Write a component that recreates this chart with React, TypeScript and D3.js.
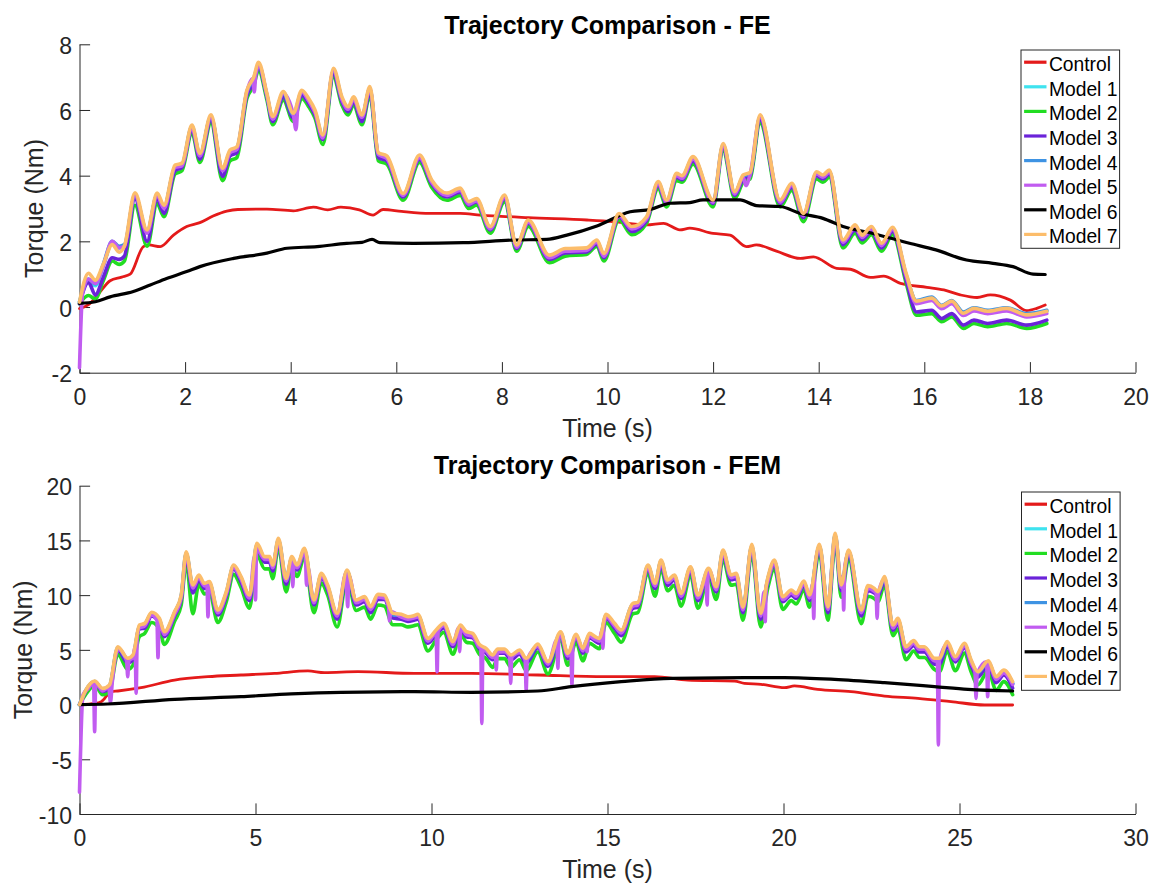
import React, { useRef, useEffect } from "react";
import * as d3 from "d3";

// legend entries, drawn in this order (Model 7 ends up on top)
const seriesNames = ["Control", "Model 1", "Model 2", "Model 3", "Model 4", "Model 5", "Model 6", "Model 7"];
const seriesColors = ["#e41a1a", "#3fe3ef", "#22dd22", "#6b23d9", "#3e93e3", "#c15cf0", "#000000", "#fcbd6b"];

const feXTicks = [0, 2, 4, 6, 8, 10, 12, 14, 16, 18, 20];
const feYTicks = [-2, 0, 2, 4, 6, 8];
const femXTicks = [0, 5, 10, 15, 20, 25, 30];
const femYTicks = [-10, -5, 0, 5, 10, 15, 20];

// ---------- FE ----------
const feTime = [
  0, 0.17, 0.3, 0.45, 0.62, 0.75, 0.85, 1.05, 1.28, 1.47,
  1.6, 1.81, 1.94, 2.13, 2.28, 2.49, 2.71, 2.85, 2.98, 3.17,
  3.3, 3.39, 3.55, 3.66, 3.86, 4.05, 4.21, 4.34, 4.46, 4.61,
  4.81, 4.97, 5.09, 5.19, 5.35, 5.5, 5.66, 5.82, 6.13, 6.44,
  6.67, 6.96, 7.21, 7.37, 7.52, 7.78, 8.05, 8.28, 8.5, 8.9,
  9.2, 9.6, 9.8, 9.93, 10.22, 10.46, 10.74, 10.96, 11.12, 11.31,
  11.41, 11.62, 12.0, 12.19, 12.41, 12.57, 12.7, 12.89, 13.27, 13.49,
  13.71, 13.96, 14.08, 14.2, 14.46, 14.69, 14.82, 15.0, 15.19, 15.4,
  15.66, 15.85, 16.14, 16.33, 16.52, 16.74, 16.94, 17.2, 17.56, 17.94, 18.32,
];
const feModel7 = [
  0.15, 1.03, 0.82, 1.3, 1.9, 1.67, 1.85, 3.48, 2.35, 3.47,
  3.1, 4.32, 4.38, 5.54, 4.68, 5.85, 4.23, 4.78, 4.88, 6.6,
  7.0, 7.45, 6.5, 5.8, 6.56, 5.9, 6.6, 6.35, 6.0, 5.24,
  7.27, 6.4, 6.1, 6.4, 5.85, 6.71, 4.7, 4.6, 3.46, 4.63,
  3.87, 3.47, 3.62, 3.21, 3.3, 2.45, 3.41, 1.89, 2.65, 1.58,
  1.78, 1.8, 2.04, 1.63, 2.85, 2.45, 2.75, 3.82, 3.26, 4.07,
  4.0, 4.58, 3.26, 4.98, 3.51, 4.02, 4.1, 5.85, 3.26, 3.77,
  2.85, 4.12, 4.02, 4.17, 2.04, 2.5, 2.19, 2.45, 1.94, 2.43,
  1.0, 0.18, 0.27, 0.03, 0.18, -0.19, -0.04, -0.13, -0.04, -0.24, -0.13,
];
const feModel2 = [
  0.1, 0.35, 0.25, 0.8, 1.4, 1.3, 1.4, 3.1, 1.85, 3.15,
  2.75, 4.05, 4.15, 5.3, 4.4, 5.6, 3.85, 4.45, 4.55, 6.35,
  6.75, 7.2, 6.3, 5.55, 6.3, 5.65, 6.35, 6.1, 5.75, 4.95,
  7.0, 6.15, 5.85, 6.15, 5.55, 6.45, 4.45, 4.35, 3.25, 4.4,
  3.65, 3.25, 3.4, 3.0, 3.1, 2.25, 3.2, 1.7, 2.45, 1.35,
  1.55, 1.6, 1.85, 1.4, 2.65, 2.2, 2.55, 3.6, 3.05, 3.85,
  3.8, 4.35, 3.05, 4.75, 3.3, 3.8, 3.9, 5.6, 3.05, 3.55,
  2.6, 3.9, 3.8, 3.95, 1.8, 2.25, 1.95, 2.2, 1.7, 2.2,
  0.7, -0.25, -0.2, -0.45, -0.3, -0.65, -0.5, -0.6, -0.5, -0.65, -0.5,
];
const feModel3 = [
  0.1, 0.75, 0.37, 0.9, 1.5, 1.45, 1.55, 3.3, 2.0, 3.3,
  2.85, 4.15, 4.25, 5.4, 4.5, 5.7, 3.98, 4.6, 4.7, 6.45,
  6.85, 7.3, 6.4, 5.65, 6.4, 5.75, 6.45, 6.2, 5.85, 5.1,
  7.1, 6.25, 5.95, 6.25, 5.65, 6.55, 4.55, 4.45, 3.35, 4.5,
  3.75, 3.35, 3.5, 3.1, 3.2, 2.35, 3.3, 1.78, 2.55, 1.45,
  1.65, 1.68, 1.92, 1.5, 2.75, 2.3, 2.63, 3.7, 3.15, 3.95,
  3.88, 4.45, 3.15, 4.85, 3.4, 3.9, 4.0, 5.7, 3.15, 3.65,
  2.72, 4.0, 3.9, 4.05, 1.9, 2.35, 2.05, 2.3, 1.8, 2.3,
  0.8, -0.15, -0.1, -0.35, -0.2, -0.55, -0.4, -0.5, -0.4, -0.55, -0.4,
];
const feModel4 = [
  0.15, 0.85, 0.7, 1.3, 2.0, 1.85, 1.9, 3.4, 2.3, 3.42,
  3.05, 4.27, 4.33, 5.5, 4.63, 5.8, 4.18, 4.73, 4.83, 6.55,
  6.95, 7.38, 6.45, 5.75, 6.5, 5.85, 6.55, 6.3, 5.95, 5.2,
  7.2, 6.35, 6.05, 6.35, 5.8, 6.65, 4.65, 4.55, 3.42, 4.58,
  3.83, 3.43, 3.58, 3.17, 3.26, 2.41, 3.37, 1.85, 2.61, 1.54,
  1.74, 1.76, 2.0, 1.59, 2.81, 2.41, 2.71, 3.78, 3.22, 4.03,
  3.96, 4.54, 3.22, 4.94, 3.47, 3.98, 4.06, 5.8, 3.22, 3.73,
  2.81, 4.08, 3.98, 4.13, 2.0, 2.46, 2.15, 2.41, 1.9, 2.39,
  0.96, 0.2, 0.3, 0.05, 0.2, -0.15, -0.02, -0.1, -0.02, -0.2, -0.1,
];
const feModel1 = [
  0.15, 0.8, 0.65, 1.25, 1.95, 1.8, 1.85, 3.38, 2.27, 3.4,
  3.02, 4.25, 4.3, 5.47, 4.6, 5.77, 4.15, 4.7, 4.8, 6.52,
  6.92, 7.35, 6.42, 5.72, 6.47, 5.82, 6.52, 6.27, 5.92, 5.17,
  7.17, 6.32, 6.02, 6.32, 5.77, 6.62, 4.62, 4.52, 3.39, 4.55,
  3.8, 3.4, 3.55, 3.14, 3.23, 2.38, 3.34, 1.82, 2.58, 1.51,
  1.71, 1.73, 1.97, 1.56, 2.78, 2.38, 2.68, 3.75, 3.19, 4.0,
  3.93, 4.51, 3.19, 4.91, 3.44, 3.95, 4.03, 5.77, 3.19, 3.7,
  2.78, 4.05, 3.95, 4.1, 1.97, 2.43, 2.12, 2.38, 1.87, 2.36,
  0.93, 0.17, 0.27, 0.02, 0.17, -0.18, -0.05, -0.13, -0.05, -0.23, -0.13,
];
// Model 5 has its own spikes, so it keeps [time, torque] pairs
const feModel5: [number, number][] = [
  [0, -1.85], [0.06, 0.45], [0.17, 0.85], [0.3, 0.72], [0.45, 1.25], [0.62, 2.0], [0.75, 1.8], [0.85, 1.85],
  [1.05, 3.4], [1.28, 2.25], [1.47, 3.4], [1.6, 3.0], [1.81, 4.25], [1.94, 4.3], [2.13, 5.45], [2.28, 4.6],
  [2.49, 5.78], [2.71, 4.15], [2.85, 4.7], [2.98, 4.8], [3.17, 6.55], [3.28, 6.95], [3.31, 6.55], [3.34, 7.1],
  [3.4, 7.35], [3.55, 6.45], [3.66, 5.72], [3.86, 6.5], [4.05, 5.85], [4.1, 5.4], [4.14, 6.2], [4.21, 6.55],
  [4.34, 6.28], [4.46, 5.92], [4.61, 5.15], [4.81, 7.2], [4.97, 6.32], [5.09, 6.02], [5.19, 6.32], [5.35, 5.78],
  [5.5, 6.65], [5.66, 4.65], [5.82, 4.52], [6.13, 3.4], [6.44, 4.55], [6.67, 3.8], [6.96, 3.4], [7.21, 3.55],
  [7.37, 3.13], [7.52, 3.23], [7.78, 2.38], [8.05, 3.34], [8.28, 1.82], [8.5, 2.58], [8.9, 1.5], [9.2, 1.7],
  [9.6, 1.72], [9.8, 1.97], [9.93, 1.55], [10.22, 2.78], [10.46, 2.38], [10.74, 2.68], [10.96, 3.75], [11.12, 3.19],
  [11.31, 4.0], [11.41, 3.92], [11.62, 4.5], [12.0, 3.19], [12.19, 4.9], [12.41, 3.44], [12.57, 3.95], [12.62, 3.7],
  [12.7, 4.03], [12.89, 5.78], [13.27, 3.19], [13.49, 3.7], [13.71, 2.78], [13.96, 4.05], [14.08, 3.95], [14.2, 4.1],
  [14.46, 1.97], [14.69, 2.43], [14.82, 2.12], [15.0, 2.38], [15.19, 1.87], [15.4, 2.36], [15.66, 0.93], [15.85, 0.1],
  [16.14, 0.2], [16.33, -0.05], [16.52, 0.1], [16.74, -0.26], [16.94, -0.12], [17.2, -0.2], [17.56, -0.12], [17.94, -0.3],
  [18.32, -0.2],
];
const feControl: [number, number][] = [
  [0, -0.05], [0.17, 0.07], [0.37, 0.42], [0.58, 0.8], [0.8, 0.91], [0.96, 1.0], [1.21, 1.84], [1.31, 1.89],
  [1.53, 1.84], [1.78, 2.19], [2.03, 2.45], [2.28, 2.57], [2.53, 2.77], [2.79, 2.92], [3.0, 2.97], [3.55, 2.98],
  [4.05, 2.93], [4.43, 3.04], [4.7, 2.96], [4.95, 3.04], [5.3, 2.96], [5.56, 2.8], [5.75, 2.97], [6.1, 2.91],
  [6.64, 2.85], [7.21, 2.85], [7.59, 2.8], [8.5, 2.72], [9.61, 2.65], [10.11, 2.6], [10.74, 2.5], [11.06, 2.55],
  [11.37, 2.35], [11.56, 2.4], [12.0, 2.24], [12.32, 2.19], [12.63, 1.84], [12.82, 1.89], [13.2, 1.7], [13.65, 1.48],
  [13.9, 1.53], [14.34, 1.18], [14.6, 1.15], [14.98, 0.9], [15.23, 0.94], [15.55, 0.72], [16.05, 0.6], [16.37, 0.52],
  [16.68, 0.37], [17.0, 0.29], [17.25, 0.37], [17.63, 0.21], [17.94, -0.11], [18.13, -0.04], [18.29, 0.06],
];
const feModel6: [number, number][] = [
  [0, 0.11], [0.3, 0.16], [0.58, 0.31], [1.02, 0.47], [1.34, 0.67], [1.65, 0.87], [2.03, 1.08], [2.28, 1.23],
  [2.92, 1.48], [3.55, 1.64], [3.93, 1.79], [4.5, 1.84], [5.06, 1.94], [5.35, 1.97], [5.54, 2.06], [5.69, 1.96],
  [6.32, 1.94], [7.27, 1.96], [8.22, 2.04], [8.85, 2.06], [9.23, 2.19], [9.8, 2.47], [10.43, 2.9], [10.81, 2.97],
  [11.19, 3.16], [11.56, 3.18], [11.81, 3.26], [12.51, 3.26], [12.82, 3.09], [13.27, 3.06], [13.65, 2.85], [14.08, 2.7],
  [14.46, 2.45], [15.03, 2.24], [15.72, 1.94], [16.22, 1.74], [16.8, 1.43], [17.3, 1.33], [17.68, 1.23], [18.06, 1.0],
  [18.29, 0.99],
];

// ---------- FEM ----------
const femTime = [
  0, 0.24, 0.43, 0.66, 0.85, 1.09, 1.37, 1.52, 1.7, 1.85,
  2.05, 2.27, 2.41, 2.7, 2.89, 3.03, 3.22, 3.39, 3.55, 3.69,
  3.93, 4.17, 4.38, 4.59, 4.83, 5.04, 5.26, 5.4, 5.49, 5.65,
  5.87, 6.03, 6.18, 6.39, 6.66, 6.87, 7.05, 7.32, 7.6, 7.86,
  8.1, 8.27, 8.48, 8.66, 8.9, 9.14, 9.33, 9.5, 9.61, 9.9,
  10.13, 10.35, 10.61, 10.82, 10.99, 11.17, 11.36, 11.55, 11.74, 11.88,
  12.07, 12.26, 12.5, 12.69, 13.02, 13.31, 13.67, 13.87, 14.11, 14.3,
  14.49, 14.65, 14.77, 14.96, 15.2, 15.39, 15.72, 15.86, 16.15, 16.35,
  16.52, 16.71, 16.9, 17.09, 17.36, 17.57, 17.87, 18.09, 18.28, 18.51,
  18.66, 18.85, 19.1, 19.35, 19.55, 19.74, 19.98, 20.22, 20.36, 20.58,
  20.74, 21.02, 21.26, 21.47, 21.64, 21.85, 22.21, 22.4, 22.58, 22.68,
  22.87, 23.11, 23.25, 23.48, 23.7, 23.86, 24.0, 24.29, 24.43, 24.65,
  24.88, 25.14, 25.33, 25.52, 25.82, 26.04, 26.26, 26.51,
];
const femModel7 = [
  0, 1.64, 2.15, 1.48, 1.79, 5.29, 4.23, 4.53, 7.27, 7.42,
  8.43, 7.88, 6.66, 8.49, 10.01, 13.97, 10.93, 11.84, 11.08, 11.23,
  8.64, 10.32, 12.75, 11.69, 10.01, 14.73, 13.52, 13.52, 12.75, 15.19,
  11.53, 13.52, 12.75, 14.28, 9.56, 11.99, 10.93, 8.34, 12.3, 9.56,
  9.86, 8.95, 10.07, 10.01, 8.34, 8.25, 8.03, 8.12, 8.25, 6.05,
  6.81, 7.42, 5.75, 7.27, 6.66, 6.51, 5.5, 5.14, 4.53, 5.08,
  5.08, 4.53, 4.99, 4.23, 5.53, 3.92, 6.66, 4.68, 6.42, 5.14,
  6.51, 6.2, 6.05, 8.25, 7.42, 6.81, 9.25, 9.34, 12.75, 11.08,
  13.21, 11.38, 11.84, 10.16, 12.6, 10.01, 12.45, 10.77, 14.12, 11.84,
  11.99, 8.9, 14.64, 8.34, 11.53, 13.21, 9.86, 10.47, 10.16, 11.29,
  10.01, 14.64, 8.95, 15.65, 10.93, 14.12, 8.64, 10.87, 10.62, 10.32,
  11.69, 7.27, 7.88, 5.29, 5.84, 5.29, 5.29, 4.23, 4.23, 5.75,
  4.38, 5.6, 4.07, 3.01, 4.01, 2.55, 3.16, 2.09,
];
const femModel2 = [
  0, 1.2, 1.8, 0.9, 1.2, 4.6, 3.2, 3.6, 6.2, 6.5,
  7.5, 6.9, 5.5, 7.6, 9.1, 13.0, 8.3, 11.0, 10.1, 10.3,
  7.5, 9.4, 11.9, 10.7, 8.8, 13.7, 12.4, 12.4, 11.5, 14.4,
  10.3, 12.6, 11.7, 13.5, 8.4, 11.1, 10.0, 7.1, 11.5, 8.6,
  8.9, 7.8, 9.1, 9.0, 7.3, 7.3, 7.1, 7.2, 7.3, 4.9,
  5.9, 6.6, 4.6, 6.5, 5.7, 5.6, 4.6, 4.2, 3.4, 4.2,
  4.2, 3.4, 4.1, 3.1, 4.8, 2.8, 5.9, 3.6, 5.7, 4.0,
  5.6, 5.3, 5.1, 7.5, 6.5, 5.7, 8.3, 8.4, 12.0, 9.9,
  12.4, 10.4, 10.9, 9.0, 11.8, 8.8, 11.7, 9.6, 13.3, 10.9,
  11.0, 7.7, 13.8, 7.1, 10.6, 12.4, 8.7, 9.5, 9.2, 10.5,
  8.9, 13.8, 7.7, 14.8, 9.8, 13.3, 7.4, 9.9, 9.7, 9.4,
  10.9, 6.3, 6.9, 4.1, 4.9, 4.3, 4.3, 3.2, 3.0, 4.9,
  3.1, 4.7, 3.0, 1.8, 3.1, 1.3, 2.1, 0.9,
];
const femModel3 = [
  0, 1.5, 2.0, 1.2, 1.5, 5.0, 3.8, 4.1, 6.9, 7.0,
  8.1, 7.4, 6.2, 8.1, 9.6, 13.5, 10.2, 11.4, 10.6, 10.8,
  8.2, 9.9, 12.4, 11.2, 9.5, 14.3, 13.0, 13.0, 12.2, 14.8,
  11.0, 13.1, 12.3, 13.9, 9.1, 11.6, 10.5, 7.8, 11.9, 9.1,
  9.4, 8.4, 9.6, 9.6, 7.9, 7.8, 7.6, 7.7, 7.8, 5.6,
  6.4, 7.0, 5.3, 6.9, 6.2, 6.1, 5.1, 4.7, 4.1, 4.7,
  4.7, 4.1, 4.6, 3.8, 5.2, 3.5, 6.3, 4.2, 6.1, 4.7,
  6.1, 5.8, 5.6, 7.9, 7.0, 6.3, 8.8, 8.9, 12.4, 10.6,
  12.8, 10.9, 11.4, 9.7, 12.2, 9.5, 12.1, 10.3, 13.7, 11.4,
  11.5, 8.4, 14.2, 7.8, 11.1, 12.8, 9.4, 10.0, 9.7, 10.9,
  9.5, 14.2, 8.4, 15.2, 10.4, 13.7, 8.1, 10.4, 10.2, 9.9,
  11.3, 6.8, 7.4, 4.8, 5.4, 4.8, 4.8, 3.7, 3.7, 5.3,
  3.9, 5.2, 3.6, 2.5, 3.6, 2.0, 2.7, 1.5,
];
const femModel4 = [
  0, 1.6, 2.1, 1.4, 1.7, 5.2, 4.1, 4.4, 7.15, 7.3,
  8.35, 7.75, 6.55, 8.4, 9.9, 13.85, 10.8, 11.7, 10.95, 11.1,
  8.5, 10.2, 12.65, 11.55, 9.9, 14.6, 13.4, 13.4, 12.6, 15.05,
  11.4, 13.4, 12.6, 14.15, 9.45, 11.85, 10.8, 8.2, 12.2, 9.45,
  9.75, 8.85, 9.95, 9.9, 8.2, 8.15, 7.9, 8.0, 8.15, 5.95,
  6.7, 7.3, 5.65, 7.15, 6.55, 6.4, 5.4, 5.0, 4.4, 4.95,
  4.95, 4.4, 4.9, 4.1, 5.4, 3.8, 6.55, 4.55, 6.3, 5.0,
  6.4, 6.1, 5.95, 8.15, 7.3, 6.7, 9.15, 9.2, 12.65, 10.95,
  13.1, 11.25, 11.7, 10.05, 12.5, 9.9, 12.35, 10.65, 14.0, 11.7,
  11.85, 8.8, 14.5, 8.2, 11.4, 13.1, 9.75, 10.35, 10.05, 11.15,
  9.9, 14.5, 8.85, 15.5, 10.8, 14.0, 8.5, 10.75, 10.5, 10.2,
  11.55, 7.15, 7.75, 5.2, 5.7, 5.2, 5.2, 4.1, 4.1, 5.6,
  4.25, 5.45, 3.95, 2.9, 3.9, 2.4, 3.05, 1.95,
];
const femModel1 = [
  0, 1.6, 2.1, 1.4, 1.7, 5.15, 4.1, 4.4, 7.1, 7.3,
  8.3, 7.7, 6.5, 8.35, 9.85, 13.8, 10.75, 11.7, 10.9, 11.05,
  8.5, 10.15, 12.6, 11.5, 9.85, 14.55, 13.35, 13.35, 12.6, 15.0,
  11.35, 13.35, 12.6, 14.1, 9.4, 11.8, 10.75, 8.2, 12.15, 9.4,
  9.7, 8.8, 9.9, 9.85, 8.2, 8.1, 7.9, 8.0, 8.1, 5.9,
  6.65, 7.3, 5.6, 7.1, 6.5, 6.35, 5.35, 5.0, 4.4, 4.9,
  4.9, 4.4, 4.85, 4.1, 5.4, 3.8, 6.5, 4.5, 6.3, 5.0,
  6.35, 6.05, 5.9, 8.1, 7.3, 6.65, 9.1, 9.2, 12.6, 10.9,
  13.05, 11.2, 11.7, 10.0, 12.45, 9.85, 12.3, 10.6, 13.95, 11.7,
  11.8, 8.75, 14.45, 8.2, 11.35, 13.05, 9.7, 10.3, 10.0, 11.1,
  9.85, 14.45, 8.8, 15.45, 10.75, 13.95, 8.5, 10.7, 10.45, 10.15,
  11.5, 7.1, 7.7, 5.15, 5.7, 5.15, 5.15, 4.1, 4.1, 5.6,
  4.2, 5.45, 3.9, 2.85, 3.85, 2.4, 3.0, 1.9,
];
const femModel5: [number, number][] = [
  [0, -8.0], [0.1, 0.9], [0.24, 1.45], [0.4, 2.0], [0.43, -2.48], [0.46, 2.0], [0.66, 1.25], [0.83, 1.6],
  [0.88, 0.2], [0.93, 2.0], [1.09, 5.05], [1.34, 4.0], [1.37, 2.55], [1.4, 4.0], [1.52, 4.3], [1.58, 5.3],
  [1.61, 1.03], [1.64, 6.3], [1.7, 7.0], [1.85, 7.2], [2.05, 8.2], [2.2, 7.7], [2.23, 4.28], [2.26, 7.6],
  [2.41, 6.4], [2.7, 8.25], [2.89, 9.75], [3.03, 13.7], [3.22, 10.65], [3.39, 11.6], [3.55, 10.85], [3.62, 11.0],
  [3.65, 8.03], [3.68, 11.0], [3.93, 8.4], [4.17, 10.1], [4.38, 12.5], [4.59, 11.45], [4.83, 9.75], [4.97, 13.5],
  [5.0, 9.56], [5.03, 14.3], [5.26, 13.27], [5.4, 13.27], [5.49, 12.5], [5.65, 14.95], [5.87, 11.3], [6.03, 13.27],
  [6.06, 10.77], [6.09, 13.1], [6.18, 12.5], [6.39, 14.03], [6.42, 13.4], [6.45, 10.9], [6.48, 12.6], [6.66, 9.3],
  [6.87, 11.75], [7.05, 10.7], [7.32, 8.1], [7.57, 12.0], [7.62, 8.95], [7.65, 11.8], [7.86, 9.3], [8.1, 9.6],
  [8.27, 8.7], [8.48, 9.8], [8.66, 9.75], [8.78, 8.9], [8.81, 7.64], [8.84, 8.5], [9.14, 8.0], [9.33, 7.8],
  [9.5, 7.9], [9.61, 8.0], [9.9, 5.8], [10.13, 6.55], [10.16, 3.0], [10.19, 6.7], [10.35, 7.2], [10.61, 5.5],
  [10.77, 7.0], [10.8, 4.83], [10.83, 7.0], [10.99, 6.4], [11.17, 6.25], [11.36, 5.25], [11.4, 5.2], [11.43, -1.72],
  [11.46, 5.1], [11.55, 4.9], [11.74, 4.3], [11.81, 4.8], [11.84, 3.16], [11.87, 4.8], [12.07, 4.83], [12.22, 4.4],
  [12.25, 1.94], [12.28, 4.35], [12.5, 4.75], [12.66, 4.05], [12.69, 1.33], [12.72, 4.1], [13.02, 5.3], [13.31, 3.7],
  [13.56, 5.9], [13.59, 3.31], [13.62, 6.2], [13.67, 6.4], [13.87, 4.45], [13.96, 5.0], [13.99, 1.79], [14.02, 5.6],
  [14.11, 6.2], [14.3, 4.9], [14.39, 5.8], [14.42, 4.83], [14.45, 6.1], [14.49, 6.25], [14.65, 5.95], [14.77, 5.8],
  [14.84, 6.8], [14.87, 5.14], [14.9, 7.4], [14.96, 8.0], [15.2, 7.2], [15.39, 6.55], [15.72, 9.0], [15.86, 9.1],
  [16.15, 12.5], [16.35, 10.85], [16.52, 12.95], [16.71, 11.15], [16.9, 11.6], [17.09, 9.9], [17.36, 12.35], [17.57, 9.75],
  [17.8, 11.6], [17.83, 9.1], [17.86, 12.0], [17.9, 12.2], [18.09, 10.5], [18.28, 13.85], [18.51, 11.6], [18.66, 11.75],
  [18.85, 8.65], [19.1, 14.4], [19.35, 8.1], [19.45, 10.3], [19.48, 7.57], [19.51, 10.8], [19.55, 11.25], [19.74, 12.95],
  [19.98, 9.6], [20.22, 10.2], [20.36, 9.9], [20.58, 11.05], [20.74, 9.75], [20.83, 11.0], [20.86, 7.88], [20.89, 12.5],
  [21.02, 14.4], [21.26, 8.7], [21.47, 15.4], [21.64, 10.7], [21.68, 11.7], [21.71, 8.64], [21.74, 12.6], [21.85, 13.85],
  [22.21, 8.4], [22.4, 10.6], [22.58, 10.35], [22.63, 10.2], [22.66, 7.88], [22.69, 10.1], [22.87, 11.45], [23.11, 7.0],
  [23.25, 7.6], [23.48, 5.05], [23.7, 5.6], [23.86, 5.05], [24.0, 5.05], [24.29, 4.0], [24.37, 4.0], [24.4, -3.7],
  [24.43, 4.0], [24.65, 5.5], [24.88, 4.1], [25.14, 5.35], [25.33, 3.8], [25.44, 3.0], [25.47, 0.57], [25.5, 2.8],
  [25.77, 3.9], [25.8, 0.72], [25.83, 3.8], [26.04, 2.3], [26.26, 2.9], [26.51, 1.85],
];
const femControl: [number, number][] = [
  [0, 0], [0.45, 0.1], [0.62, 0.27], [0.9, 1.18], [1.09, 1.24], [1.75, 1.54], [2.7, 2.24], [3.65, 2.55],
  [4.59, 2.7], [5.54, 2.85], [6.49, 3.07], [6.96, 2.92], [7.91, 3.01], [9.52, 2.85], [11.13, 2.85], [13.02, 2.7],
  [14.92, 2.55], [16.34, 2.55], [17.28, 2.24], [18.61, 2.15], [18.89, 1.94], [19.36, 1.85], [20.03, 1.54], [20.31, 1.7],
  [20.97, 1.39], [21.92, 1.18], [22.87, 0.78], [23.82, 0.57], [24.76, 0.27], [25.71, -0.04], [26.51, -0.04],
];
const femModel6: [number, number][] = [
  [0, 0], [0.8, 0.05], [2.7, 0.48], [4.59, 0.72], [6.01, 0.97], [7.43, 1.12], [9.52, 1.18], [11.13, 1.12],
  [13.02, 1.24], [13.97, 1.64], [15.39, 2.09], [16.81, 2.4], [18.89, 2.46], [20.03, 2.46], [21.45, 2.3], [22.87, 2.0],
  [24.29, 1.64], [25.24, 1.39], [26.51, 1.24],
];

function zip(t: number[], v: number[]): [number, number][] {
  const n = Math.min(t.length, v.length);
  return t.slice(0, n).map((d, i) => [d, v[i]]);
}

const FONT = "'Liberation Sans', Arial, Helvetica, sans-serif";
const AXIS_COLOR = "#262626";

function drawPanel(svg: any, p: any) {
  const x = d3.scaleLinear().domain(p.xDomain).range([p.left, p.right]);
  const y = d3.scaleLinear().domain(p.yDomain).range([p.bottom, p.top]);
  const g = svg.append("g");

  // axes (box off, ticks pointing in)
  const xAxis = g.append("g")
    .attr("transform", "translate(0," + p.bottom + ")")
    .call(d3.axisBottom(x).tickValues(p.xTicks).tickSizeInner(-10.6).tickSizeOuter(0)
      .tickPadding(15.7).tickFormat((d: any) => String(d)));
  const yAxis = g.append("g")
    .attr("transform", "translate(" + p.left + ",0)")
    .call(d3.axisLeft(y).tickValues(p.yTicks).tickSizeInner(-10.6).tickSizeOuter(0)
      .tickPadding(7.5).tickFormat((d: any) => String(d)));
  [xAxis, yAxis].forEach((a) => {
    a.select(".domain").attr("stroke", AXIS_COLOR).attr("stroke-width", 1);
    a.selectAll(".tick line").attr("stroke", AXIS_COLOR).attr("stroke-width", 1);
    a.selectAll(".tick text").attr("fill", AXIS_COLOR).attr("font-size", 23).attr("font-family", FONT);
  });
  yAxis.selectAll(".tick text").attr("dy", "0.4em");

  // curves
  const line = d3.line<[number, number]>()
    .x((d) => x(d[0]))
    .y((d) => y(d[1]))
    .curve(d3.curveMonotoneX);

  p.series.forEach((s: [number, number][], i: number) => {
    g.append("path")
      .datum(s)
      .attr("d", line)
      .attr("fill", "none")
      .attr("stroke", seriesColors[i])
      .attr("stroke-width", i === 0 ? 2.8 : i === 6 ? 3.2 : 3.6)
      .attr("stroke-linejoin", "round")
      .attr("stroke-linecap", "round");
  });

  // labels
  g.append("text")
    .attr("x", (p.left + p.right) / 2)
    .attr("y", p.titleY)
    .attr("text-anchor", "middle")
    .attr("font-family", FONT)
    .attr("font-size", 25)
    .attr("font-weight", "bold")
    .attr("fill", "#000")
    .text(p.title);

  g.append("text")
    .attr("x", (p.left + p.right) / 2)
    .attr("y", p.bottom + 64)
    .attr("text-anchor", "middle")
    .attr("font-family", FONT)
    .attr("font-size", 25)
    .attr("fill", AXIS_COLOR)
    .text("Time (s)");

  g.append("text")
    .attr("transform", "translate(" + p.yLabelX + "," + (p.top + p.bottom) / 2 + ") rotate(-90)")
    .attr("text-anchor", "middle")
    .attr("font-family", FONT)
    .attr("font-size", 25)
    .attr("fill", AXIS_COLOR)
    .text("Torque (Nm)");

  // legend
  const lg = g.append("g").attr("transform", "translate(" + p.legendX + "," + p.legendY + ")");
  lg.append("rect")
    .attr("x", 0.5).attr("y", 0.5)
    .attr("width", 98.6).attr("height", 198.3)
    .attr("fill", "#fff")
    .attr("stroke", AXIS_COLOR)
    .attr("stroke-width", 1);
  seriesNames.forEach((name, i) => {
    const ly = 12.7 + i * 24.6;
    lg.append("line")
      .attr("x1", 3.6).attr("x2", 26)
      .attr("y1", ly).attr("y2", ly)
      .attr("stroke", seriesColors[i])
      .attr("stroke-width", 3.2);
    lg.append("text")
      .attr("x", 28.4)
      .attr("y", ly + 9)
      .attr("font-family", FONT)
      .attr("font-size", 19.3)
      .attr("fill", "#000")
      .text(name);
  });
}

export default function App() {
  const svgRef = useRef<SVGSVGElement>(null);

  useEffect(() => {
    document.body.style.margin = "0";
    const svg = d3.select(svgRef.current);
    svg.selectAll("*").remove();

    drawPanel(svg, {
      left: 79.5, right: 1135.5, top: 44.3, bottom: 372.7,
      xDomain: [0, 20], yDomain: [-2, 8],
      xTicks: feXTicks, yTicks: feYTicks,
      title: "Trajectory Comparison - FE", titleY: 34,
      yLabelX: 43.3, legendX: 1020.5, legendY: 49.5,
      series: [
        feControl, zip(feTime, feModel1), zip(feTime, feModel2), zip(feTime, feModel3),
        zip(feTime, feModel4), feModel5, feModel6, zip(feTime, feModel7),
      ],
    });

    drawPanel(svg, {
      left: 79.5, right: 1135.5, top: 485.7, bottom: 814,
      xDomain: [0, 30], yDomain: [-10, 20],
      xTicks: femXTicks, yTicks: femYTicks,
      title: "Trajectory Comparison - FEM", titleY: 473.5,
      yLabelX: 32, legendX: 1021, legendY: 491.5,
      series: [
        femControl, zip(femTime, femModel1), zip(femTime, femModel2), zip(femTime, femModel3),
        zip(femTime, femModel4), femModel5, femModel6, zip(femTime, femModel7),
      ],
    });
  }, []);

  return <svg ref={svgRef} width={1153} height={884} style={{ display: "block", background: "#fff" }} />;
}
